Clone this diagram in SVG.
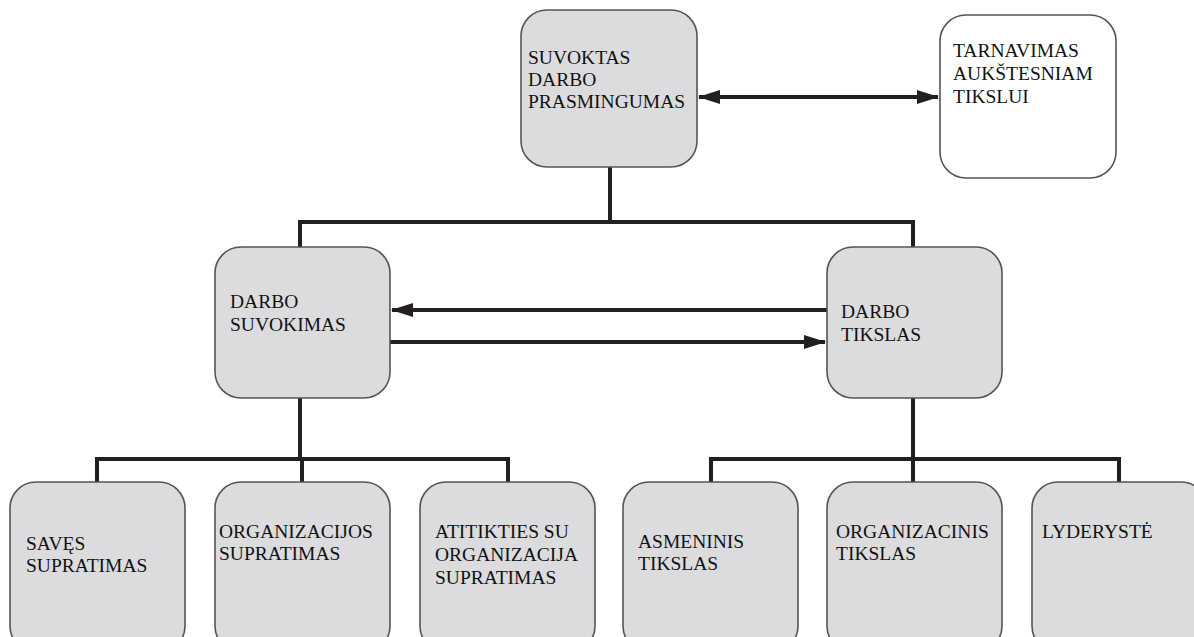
<svg xmlns="http://www.w3.org/2000/svg" width="1194" height="637" viewBox="0 0 1194 637">
<style>
.box{fill:#dcdcde;stroke:#555;stroke-width:1.6}
.wbox{fill:#fff;stroke:#555;stroke-width:1.6}
.c{fill:none;stroke:#231f20;stroke-width:4}
</style>
<defs>
<marker id="ah" viewBox="0 0 22 14" refX="21" refY="7" markerWidth="22" markerHeight="14" markerUnits="userSpaceOnUse" orient="auto-start-reverse">
<path d="M0,0 L22,7 L0,14 Z" fill="#231f20"/>
</marker>
</defs>
<rect width="1194" height="637" fill="#fff"/>
<g id="connectors">
<path class="c" d="M610,167 V222 M300,222 H913 M300,220 V248 M913,220 V248"/>
<path class="c" d="M300,398 V459 M97,459 H508 M97,457 V482 M302,459 V482 M508,457 V482"/>
<path class="c" d="M913,398 V459 M711,459 H1119 M711,457 V482 M913,459 V482 M1119,457 V482"/>
<line class="c" x1="699" y1="97" x2="938" y2="97" marker-start="url(#ah)" marker-end="url(#ah)"/>
<line class="c" x1="827" y1="310" x2="392" y2="310" marker-end="url(#ah)"/>
<line class="c" x1="390" y1="342" x2="825" y2="342" marker-end="url(#ah)"/>
</g>
<g font-family="Liberation Serif" font-size="19.5" fill="#111">
<g id="n-prasmingumas">
<rect class="box" x="521" y="10" width="176" height="157" rx="26"/>
<text x="528" y="64" style="font-family:'Liberation Serif'">SUVOKTAS</text><text x="528" y="86" style="font-family:'Liberation Serif'">DARBO</text><text x="528" y="108" style="font-family:'Liberation Serif'">PRASMINGUMAS</text>
</g>
<g id="n-tarnavimas">
<rect class="wbox" x="940" y="15" width="176" height="163" rx="26"/>
<text x="953" y="57" style="font-family:'Liberation Serif'">TARNAVIMAS</text><text x="953" y="80" style="font-family:'Liberation Serif'">AUKŠTESNIAM</text><text x="953" y="103" style="font-family:'Liberation Serif'">TIKSLUI</text>
</g>
<g id="n-suvokimas">
<rect class="box" x="215" y="247" width="175" height="151" rx="26"/>
<text x="230" y="308" style="font-family:'Liberation Serif'">DARBO</text><text x="230" y="331" style="font-family:'Liberation Serif'">SUVOKIMAS</text>
</g>
<g id="n-tikslas">
<rect class="box" x="827" y="247" width="175" height="151" rx="26"/>
<text x="841" y="318" style="font-family:'Liberation Serif'">DARBO</text><text x="841" y="341" style="font-family:'Liberation Serif'">TIKSLAS</text>
</g>
<g id="n-saves">
<rect class="box" x="10" y="482" width="175" height="170" rx="26"/>
<text x="26" y="550" style="font-family:'Liberation Serif'">SAVĘS</text><text x="26" y="572" style="font-family:'Liberation Serif'">SUPRATIMAS</text>
</g>
<g id="n-organizacijos">
<rect class="box" x="215" y="482" width="175" height="170" rx="26"/>
<text x="219" y="538" style="font-family:'Liberation Serif'">ORGANIZACIJOS</text><text x="219" y="560" style="font-family:'Liberation Serif'">SUPRATIMAS</text>
</g>
<g id="n-atitikties">
<rect class="box" x="420" y="482" width="175" height="170" rx="26"/>
<text x="435" y="538" style="font-family:'Liberation Serif'">ATITIKTIES SU</text><text x="435" y="561" style="font-family:'Liberation Serif'">ORGANIZACIJA</text><text x="435" y="584" style="font-family:'Liberation Serif'">SUPRATIMAS</text>
</g>
<g id="n-asmeninis">
<rect class="box" x="623" y="482" width="175" height="170" rx="26"/>
<text x="638" y="548" style="font-family:'Liberation Serif'">ASMENINIS</text><text x="638" y="570" style="font-family:'Liberation Serif'">TIKSLAS</text>
</g>
<g id="n-organizacinis">
<rect class="box" x="827" y="482" width="175" height="170" rx="26"/>
<text x="836" y="538" style="font-family:'Liberation Serif'">ORGANIZACINIS</text><text x="836" y="560" style="font-family:'Liberation Serif'">TIKSLAS</text>
</g>
<g id="n-lyderyste">
<rect class="box" x="1032" y="482" width="175" height="170" rx="26"/>
<text x="1042" y="538" style="font-family:'Liberation Serif'">LYDERYSTĖ</text>
</g>
</g>
</svg>
